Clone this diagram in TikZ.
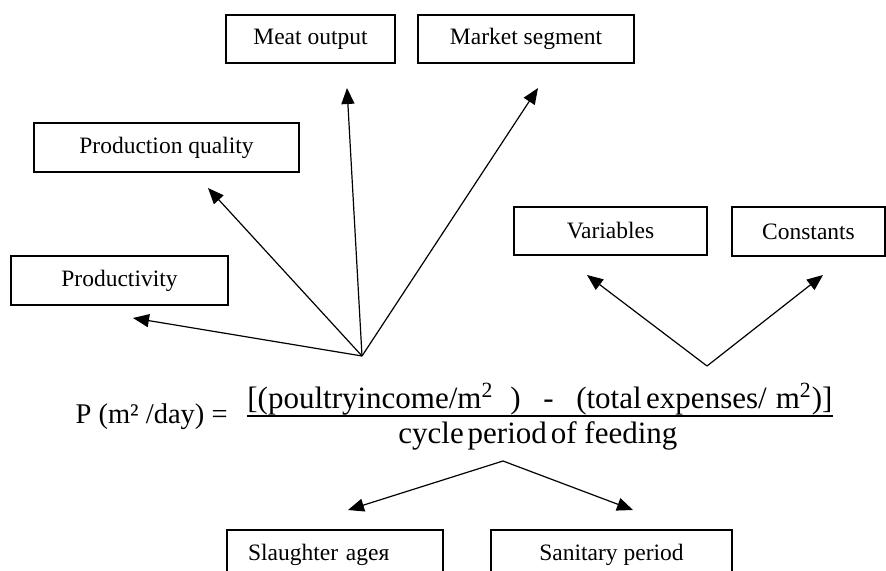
\documentclass[tikz,border=0pt]{standalone}
\usepackage{fontspec}
\setmainfont{Liberation Serif}
\usetikzlibrary{arrows.meta}

\newcommand\boxfont{\fontsize{11.75pt}{14pt}\selectfont}
\newcommand\fracfont{\fontsize{15.5pt}{18pt}\selectfont}
\newcommand\lhsfont{\fontsize{14.25pt}{17pt}\selectfont}

\tikzset{
  box/.style={draw, line width=0.75pt, font=\boxfont, inner sep=0pt},
  conn/.style={line width=0.6pt, -{Triangle[length=8pt,width=6.5pt]}},
}

\begin{document}
\begin{tikzpicture}[x=0.5pt,y=-0.5pt]
        \useasboundingbox (0,0) rectangle (886,571);
        \clip (0,0) rectangle (886,571);

        % --- boxes ---
        \node[box, minimum width=84.5pt, minimum height=24pt] (meat) at (310.5,39) {Meat output};
        \node[box, minimum width=108pt, minimum height=24pt] (market) at (526,39) {Market segment};
        \node[box, minimum width=132.5pt, minimum height=24.5pt] (quality) at (166.5,147.5) {Production quality};
        \node[box, minimum width=108.5pt, minimum height=24.5pt] (productivity) at (119.5,280.5) {Productivity};
        \node[box, minimum width=96.5pt, minimum height=24pt] (variables) at (610.5,231) {Variables};
        \node[box, minimum width=76.5pt, minimum height=24.5pt] (constants) at (808.5,231.5) {Constants\hspace{11pt}};
        \node[box, minimum width=108pt, minimum height=24.5pt, text width=87pt, align=left] (slaughter) at (335,554.5) {Slaughter ageя};
        \node[box, minimum width=120.5pt, minimum height=24.5pt] (sanitary) at (611.5,554.5) {Sanitary period};

        % --- formula ---
        \node[anchor=base east, font=\lhsfont, inner sep=0pt] (lhs) at (228,423) {P (m² /day) =};
        \node[anchor=base west, font=\fracfont, inner sep=0pt] (num) at (247,408)
            {\makebox[292.5pt][s]{[(poultryincome/m\textsuperscript{2}\hspace{0pt plus 3fil})\hspace{0pt plus 4fil}-\hspace{0pt plus 4fil}(total\hspace{0pt plus 0.8fil}expenses/\hspace{0pt plus 1.6fil}m\textsuperscript{2})]}};
        \node[anchor=base west, font=\fracfont, inner sep=0pt] (den) at (398,443)
            {\makebox[139.5pt][s]{cycle\hspace{0pt plus 1fil}period\hspace{0pt plus 1fil}of\hspace{0pt plus 2fil}feeding}};
        \coordinate (barl) at (247,416);
        \coordinate (barr) at (833,416);
        \draw[line width=0.7pt] (barl) -- (barr);

        % --- arrow ends ---
        \coordinate (fan) at (362,356);
        \coordinate (tprod) at (133,318);
        \coordinate (tqual) at (208,188);
        \coordinate (tmeat) at (347,88);
        \coordinate (tmark) at (538,88);
        \coordinate (vee) at (707,366);
        \coordinate (tvar) at (587,275);
        \coordinate (tcon) at (823,275);
        \coordinate (hat) at (503,461);
        \coordinate (tslau) at (348,510);
        \coordinate (tsan) at (633,510);

        % --- arrows ---
        \foreach \t in {tprod, tqual, tmeat, tmark}
            \draw[conn] (fan) -- (\t);
        \foreach \t in {tvar, tcon}
            \draw[conn] (vee) -- (\t);
        \foreach \t in {tslau, tsan}
            \draw[conn] (hat) -- (\t);
\end{tikzpicture}
\end{document}
